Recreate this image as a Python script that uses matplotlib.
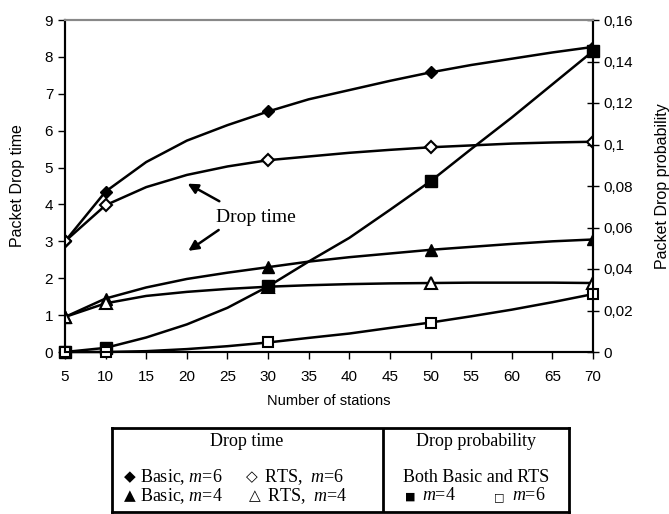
import numpy as np
import matplotlib.pyplot as plt

stations = [5, 10, 15, 20, 25, 30, 35, 40, 45, 50, 55, 60, 65, 70]
marked = [0, 1, 5, 9, 13]  # points that carry a marker

basic_m6 = [3.0, 4.35, 5.15, 5.73, 6.15, 6.52, 6.85, 7.1, 7.35, 7.58, 7.78, 7.95, 8.12, 8.27]
rts_m6 = [3.0, 3.98, 4.47, 4.8, 5.03, 5.2, 5.3, 5.4, 5.48, 5.55, 5.6, 5.65, 5.68, 5.7]
basic_m4 = [0.95, 1.45, 1.75, 1.98, 2.15, 2.3, 2.45, 2.57, 2.67, 2.77, 2.85, 2.93, 3.0, 3.05]
rts_m4 = [0.95, 1.32, 1.52, 1.63, 1.71, 1.77, 1.81, 1.84, 1.86, 1.87, 1.88, 1.88, 1.88, 1.87]

prob_m4 = [0.0, 0.002, 0.007, 0.0133, 0.0213, 0.0316, 0.0436, 0.055, 0.0685, 0.0823, 0.0978, 0.113, 0.129, 0.145]
prob_m6 = [0.0, 0.0, 0.0004, 0.0014, 0.0028, 0.0046, 0.0068, 0.0089, 0.0116, 0.0142, 0.0172, 0.0204, 0.024, 0.0279]

plt.rcParams['font.family'] = ['Liberation Sans', 'DejaVu Sans']
plt.rcParams['mathtext.fontset'] = 'custom'
plt.rcParams['mathtext.it'] = 'Liberation Serif:italic'
plt.rcParams['mathtext.rm'] = 'Liberation Serif'

W, H = 669, 514
fig = plt.figure(figsize=(W/100, H/100), dpi=100)

ax = fig.add_axes([65/W, 1-352/H, (593-65)/W, (352-20)/H])
ax2 = ax.twinx()

lw = 1.8
ax.plot(stations, basic_m6, color='black', lw=lw, marker='D', ms=6, mfc='black', markevery=marked, zorder=3)
ax.plot(stations, rts_m6, color='black', lw=lw, marker='D', ms=6, mfc='white', mew=1.5, markevery=marked, zorder=3)
ax.plot(stations, basic_m4, color='black', lw=lw, marker='^', ms=8, mfc='black', markevery=marked, zorder=3)
ax.plot(stations, rts_m4, color='black', lw=lw, marker='^', ms=8, mfc='white', mew=1.5, markevery=marked, zorder=3)
ax2.plot(stations, prob_m4, color='black', lw=lw, marker='s', ms=8, mfc='black', markevery=marked, clip_on=False)
ax2.plot(stations, prob_m6, color='black', lw=lw, marker='s', ms=7, mfc='white', mew=1.5, markevery=marked, clip_on=False)

ax.set_xlim(5, 70)
ax.set_ylim(0, 9)
ax2.set_ylim(0, 0.16)
ax.set_xticks(stations)
ax.set_yticks(range(10))
ax2.set_yticks(np.arange(0, 0.161, 0.02))
ax2.set_yticklabels(['0'] + [('%g' % v).replace('.', ',') for v in np.arange(0.02, 0.161, 0.02)])

for a in (ax, ax2):
    a.spines['top'].set_color('#888888')
    a.spines['top'].set_linewidth(1.5)
    a.spines['left'].set_linewidth(1.5)
    a.spines['right'].set_linewidth(1.5)
    a.spines['bottom'].set_linewidth(1.5)
ax.tick_params(axis='x', direction='out', length=5, width=1, labelsize=11, pad=8)
ax.tick_params(axis='y', direction='out', length=5, width=1, labelsize=11)
ax2.tick_params(axis='y', direction='inout', length=8, width=1, labelsize=11)

ax.set_xlabel('Number of stations', fontsize=10.5, labelpad=7)
ax.set_ylabel('Packet Drop time', fontsize=11.5, labelpad=14)
ax2.set_ylabel('Packet Drop probability', fontsize=11.5, labelpad=16)

serif = ['Liberation Serif', 'DejaVu Serif']
ax.text(28.5, 3.65, 'Drop time', fontsize=14, family=serif, ha='center', va='center')
ax.annotate('', xy=(19.8, 4.6), xytext=(24.3, 4.05),
            arrowprops=dict(arrowstyle='-|>', color='black', lw=1.8, mutation_scale=15))
ax.annotate('', xy=(19.9, 2.7), xytext=(24.2, 3.35),
            arrowprops=dict(arrowstyle='-|>', color='black', lw=1.8, mutation_scale=15))

# legend box drawn as a small table
lg = fig.add_axes([112/W, 1-512/H, (569-112)/W, (512-428)/H])
lg.set_xlim(112, 569)
lg.set_ylim(512, 428)
lg.set_xticks([])
lg.set_yticks([])
for s in lg.spines.values():
    s.set_linewidth(2)
lg.axvline(383, color='black', lw=2)
fs = 13
sym = dict(fontsize=11, family='DejaVu Sans', va='center')
txt = dict(fontsize=fs, family=serif, va='center')
lg.text(247, 442, 'Drop time', fontsize=fs, family=serif, ha='center', va='center')
lg.text(476, 442, 'Drop probability', fontsize=fs, family=serif, ha='center', va='center')
lg.text(124, 477, '\u25c6', **sym)
lg.text(140, 477, 'Basic, $m$=6', **txt)
lg.text(246, 477, '\u25c7', **sym)
lg.text(264, 477, 'RTS,  $m$=6', **txt)
lg.text(124, 496, '\u25b2', **sym)
lg.text(140, 496, 'Basic, $m$=4', **txt)
lg.text(249, 496, '\u25b3', **sym)
lg.text(267, 496, 'RTS,  $m$=4', **txt)
lg.text(476, 477, 'Both Basic and RTS', fontsize=fs, family=serif, ha='center', va='center')
lg.text(405, 497, '\u25a0', fontsize=8, family='DejaVu Sans', va='center')
lg.text(422, 496, '$m$=4', **txt)
lg.text(494, 497, '\u25a1', fontsize=8, family='DejaVu Sans', va='center')
lg.text(512, 496, '$m$=6', **txt)

fig.savefig('out.png', dpi=100)
